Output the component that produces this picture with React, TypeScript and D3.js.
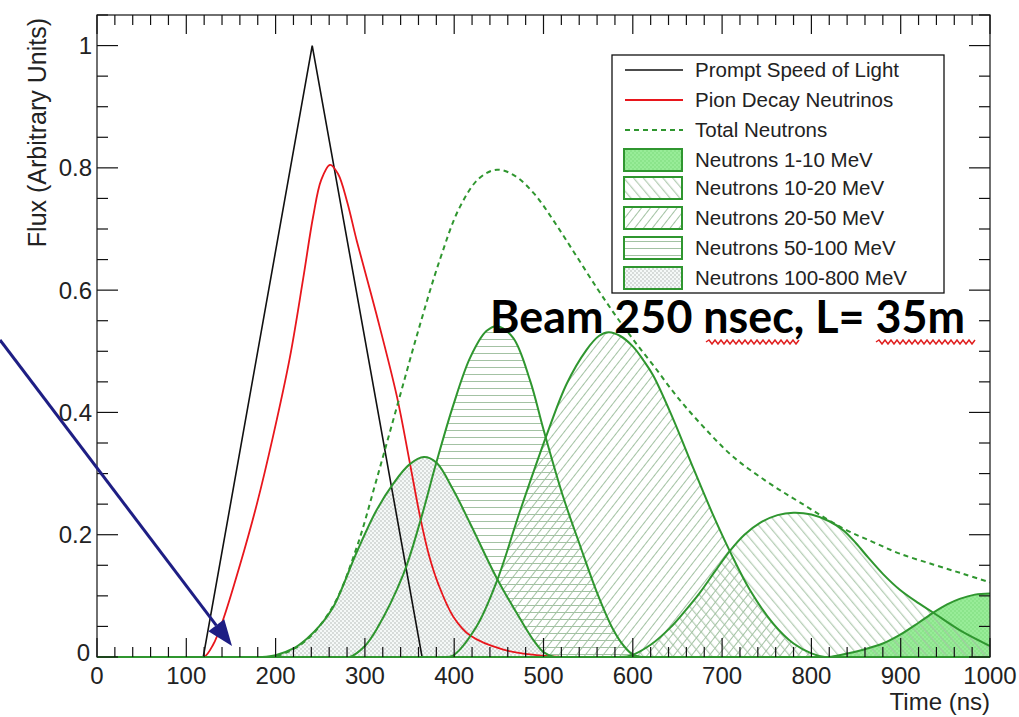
import React from 'react';
import * as d3 from 'd3';

type Pt = [number, number];

// ---------- data ----------
const timeTicks = [0, 100, 200, 300, 400, 500, 600, 700, 800, 900, 1000];
const fluxTicks = [0, 0.2, 0.4, 0.6, 0.8, 1];
const fluxTickLabels = ['0', '0.2', '0.4', '0.6', '0.8', '1'];

const promptLight: Pt[] = [[0, 0], [119, 0], [241, 1], [364, 0], [1000, 0]];

const pionNeutrinos: Pt[] = [
  [0, 0], [110, 0], [120, 0], [130, 0.02], [141, 0.06], [160, 0.15], [179, 0.25], [197, 0.36],
  [216, 0.49], [231, 0.62], [242, 0.72], [251, 0.78], [261, 0.805], [270, 0.79], [280, 0.745],
  [291, 0.68], [313, 0.56], [336, 0.425], [350, 0.32], [362, 0.228], [372, 0.165], [382, 0.12],
  [399, 0.066], [418, 0.035], [455, 0.012], [492, 0.003], [520, 0], [540, 0], [1000, 0],
];

const totalNeutrons: Pt[] = [
  [0, 0], [180, 0], [195, 0], [210, 0.006], [235, 0.028], [265, 0.085], [291, 0.18], [313, 0.29],
  [336, 0.41], [360, 0.535], [384, 0.65], [406, 0.735], [428, 0.783], [448, 0.797], [468, 0.787],
  [490, 0.757], [512, 0.712], [535, 0.66], [560, 0.603], [580, 0.56], [600, 0.52], [623, 0.477],
  [650, 0.425], [680, 0.375], [712, 0.328], [750, 0.287], [787, 0.253], [836, 0.21], [869, 0.188],
  [899, 0.169], [937, 0.151], [970, 0.136], [1000, 0.122],
];

const neutrons1to10: Pt[] = [
  [0, 0], [810, 0], [820, 0], [835, 0.004], [858, 0.012], [880, 0.022], [899, 0.036], [920, 0.056],
  [937, 0.073], [952, 0.086], [966, 0.095], [983, 0.102], [1000, 0.104],
];

const neutrons10to20: Pt[] = [
  [0, 0], [585, 0], [597, 0.002], [620, 0.02], [642, 0.048], [660, 0.078], [675, 0.105], [692, 0.14],
  [709, 0.174], [725, 0.2], [742, 0.219], [762, 0.232], [780, 0.236], [800, 0.233], [820, 0.222],
  [836, 0.207], [850, 0.186], [864, 0.162], [880, 0.136], [899, 0.11], [920, 0.088], [937, 0.072],
  [966, 0.044], [1000, 0.018],
];

const neutrons20to50: Pt[] = [
  [0, 0], [385, 0], [398, 0.002], [425, 0.05], [448, 0.125], [474, 0.24], [504, 0.365], [526, 0.447],
  [548, 0.502], [562, 0.525], [573, 0.531], [586, 0.525], [600, 0.508], [612, 0.485], [623, 0.46],
  [645, 0.39], [668, 0.308], [690, 0.232], [709, 0.172], [731, 0.11], [757, 0.055], [780, 0.022],
  [800, 0.006], [815, 0], [830, 0], [1000, 0],
];

const neutrons50to100: Pt[] = [
  [0, 0], [270, 0], [283, 0], [300, 0.018], [313, 0.045], [343, 0.135], [362, 0.222], [380, 0.318],
  [399, 0.412], [418, 0.49], [436, 0.533], [448, 0.541], [466, 0.522], [485, 0.452], [500, 0.372],
  [522, 0.262], [541, 0.182], [560, 0.105], [578, 0.045], [590, 0.018], [600, 0.004], [610, 0],
  [620, 0], [1000, 0],
];

const neutrons100to800: Pt[] = [
  [0, 0], [185, 0], [200, 0.003], [220, 0.014], [235, 0.03], [250, 0.052], [265, 0.083], [291, 0.172],
  [313, 0.24], [332, 0.284], [350, 0.315], [366, 0.327], [380, 0.318], [399, 0.273], [418, 0.218],
  [448, 0.128], [474, 0.062], [490, 0.025], [500, 0.008], [512, 0], [530, 0], [1000, 0],
];

const legendLabels = [
  'Prompt Speed of Light',
  'Pion Decay Neutrinos',
  'Total Neutrons',
  'Neutrons 1-10 MeV',
  'Neutrons 10-20 MeV',
  'Neutrons 20-50 MeV',
  'Neutrons 50-100 MeV',
  'Neutrons 100-800 MeV',
];

// ---------- styling ----------
const W = 1019, H = 717;
const L = 97, R = 990, T = 15, B = 657;
const GREEN = '#2f962f';
const HATCH = '#a3c2a3';
const FONT = '"Liberation Sans", Arial, Helvetica, sans-serif';

const components = [
  { data: neutrons1to10, fill: 'url(#p1to10)' },
  { data: neutrons10to20, fill: 'url(#pBack)' },
  { data: neutrons20to50, fill: 'url(#pFwd)' },
  { data: neutrons50to100, fill: 'url(#pHoriz)' },
  { data: neutrons100to800, fill: 'url(#pDots)' },
];
const legendFills = ['url(#p1to10)', 'url(#pBack)', 'url(#pFwd)', 'url(#pHoriz)', 'url(#pDots)'];

function wavy(x0: number, x1: number, y: number) {
  let d = `M${x0},${y}`;
  let up = true;
  for (let x = x0 + 3; x <= x1; x += 3) {
    d += ` L${x},${y + (up ? -2 : 2)}`;
    up = !up;
  }
  return d;
}

export default function App() {
  const x = d3.scaleLinear().domain([0, 1000]).range([L, R]);
  const y = d3.scaleLinear().domain([0, 1.05]).range([B, T]);

  const curve = d3.curveCatmullRom.alpha(0.5);
  const smooth = d3.line<Pt>().x(d => x(d[0])).y(d => y(d[1])).curve(curve);
  const straight = d3.line<Pt>().x(d => x(d[0])).y(d => y(d[1]));
  const area = d3.area<Pt>().x(d => x(d[0])).y0(y(0)).y1(d => y(d[1])).curve(curve);

  const xMinor = d3.range(0, 1001, 20);
  const yMinor = d3.range(0, 1.0501, 0.05);

  // arrow annotation
  const ax0 = 0, ay0 = 340, ax1 = 232, ay1 = 646;
  const ang = Math.atan2(ay1 - ay0, ax1 - ax0);
  const hl = 26, hw = 10;
  const bx = ax1 - hl * Math.cos(ang), by = ay1 - hl * Math.sin(ang);
  const head = `${ax1},${ay1} ${bx + hw * Math.sin(ang)},${by - hw * Math.cos(ang)} ${bx - hw * Math.sin(ang)},${by + hw * Math.cos(ang)}`;

  const legX = 612, legY = 55, legW = 332, legH = 238;
  const rowY = [70, 100, 130, 160, 188, 218, 248, 278];

  return (
    <svg width={W} height={H} style={{ position: 'absolute', left: 0, top: 0, background: '#fff' }}
      fontFamily={FONT}>
      <defs>
        <clipPath id="plotClip"><rect x={L} y={T} width={R - L} height={B - T + 1} /></clipPath>
        <pattern id="pHoriz" patternUnits="userSpaceOnUse" width="8" height="7">
          <line x1="0" y1="3.5" x2="8" y2="3.5" stroke={HATCH} strokeWidth="1" />
        </pattern>
        <pattern id="pFwd" patternUnits="userSpaceOnUse" width="7" height="7" patternTransform="rotate(38)">
          <line x1="3.5" y1="0" x2="3.5" y2="7" stroke={HATCH} strokeWidth="1" />
        </pattern>
        <pattern id="pBack" patternUnits="userSpaceOnUse" width="7.5" height="7.5" patternTransform="rotate(-40)">
          <line x1="3.5" y1="0" x2="3.5" y2="7.5" stroke={HATCH} strokeWidth="1" />
        </pattern>
        <pattern id="pDots" patternUnits="userSpaceOnUse" width="4" height="4">
          <rect x="0" y="0" width="4" height="4" fill="#f5f9f8" />
          <circle cx="1" cy="1" r="0.65" fill="#a0a6a3" />
          <circle cx="3" cy="3" r="0.65" fill="#a0a6a3" />
        </pattern>
        <pattern id="p1to10" patternUnits="userSpaceOnUse" width="4" height="4">
          <rect x="0" y="0" width="4" height="4" fill="#98ec98" />
          <circle cx="1" cy="1" r="0.7" fill="#74d674" />
          <circle cx="3" cy="3" r="0.7" fill="#74d674" />
        </pattern>
      </defs>

      <g clipPath="url(#plotClip)">
        {components.map((c, i) => (
          <path key={'a' + i} d={area(c.data) || ''} fill={c.fill} stroke="none" />
        ))}
        <path d={straight(promptLight) || ''} fill="none" stroke="#111" strokeWidth={1.6} />
        <path d={smooth(pionNeutrinos) || ''} fill="none" stroke="#e8161c" strokeWidth={1.8} />
        {components.map((c, i) => (
          <path key={'l' + i} d={smooth(c.data) || ''} fill="none" stroke={GREEN} strokeWidth={2} />
        ))}
        <path d={smooth(totalNeutrons) || ''} fill="none" stroke={GREEN} strokeWidth={2}
          strokeDasharray="5,4" />
      </g>

      {/* frame */}
      <rect x={L} y={T} width={R - L} height={B - T} fill="none" stroke="#111" strokeWidth={1.2} />
      <line x1={L} y1={B} x2={R} y2={B} stroke={GREEN} strokeWidth={2} />

      {/* x ticks bottom & top */}
      {xMinor.map(v => {
        const major = v % 100 === 0;
        const len = major ? 19 : 10;
        return (
          <g key={'xt' + v} stroke="#111" strokeWidth={1.2}>
            <line x1={x(v)} y1={B} x2={x(v)} y2={B - len} />
            <line x1={x(v)} y1={T} x2={x(v)} y2={T + len} />
          </g>
        );
      })}
      {/* y ticks left & right */}
      {yMinor.map((v, i) => {
        const major = i % 4 === 0;
        const len = major ? 21 : 11;
        return (
          <g key={'yt' + i} stroke="#111" strokeWidth={1.2}>
            <line x1={L} y1={y(v)} x2={L + len} y2={y(v)} />
            <line x1={R} y1={y(v)} x2={R - len} y2={y(v)} />
          </g>
        );
      })}

      {/* tick labels */}
      {timeTicks.map(v => (
        <text key={'xl' + v} x={x(v)} y={684} textAnchor="middle" fontSize={24} fill="#222">{v}</text>
      ))}
      {fluxTicks.map((v, i) => (
        <text key={'yl' + v} x={i === 0 ? 90 : 92} y={y(v) + (i === 0 ? 4 : 8.5)} textAnchor="end" fontSize={24}
          fill="#222">{fluxTickLabels[i]}</text>
      ))}

      {/* axis titles */}
      <text x={990} y={710} textAnchor="end" fontSize={24} fill="#222">Time (ns)</text>
      <text transform="translate(46,18) rotate(-90)" textAnchor="end" fontSize={25} fill="#222">
        Flux (Arbitrary Units)
      </text>

      {/* legend */}
      <rect x={legX} y={legY} width={legW} height={legH} fill="#fff" stroke="#111" strokeWidth={1.3} />
      <line x1={625} x2={683} y1={rowY[0]} y2={rowY[0]} stroke="#111" strokeWidth={1.6} />
      <line x1={625} x2={683} y1={rowY[1]} y2={rowY[1]} stroke="#e8161c" strokeWidth={1.8} />
      <line x1={625} x2={683} y1={rowY[2]} y2={rowY[2]} stroke={GREEN} strokeWidth={1.8} strokeDasharray="5,4" />
      {legendFills.map((f, i) => (
        <rect key={'lb' + i} x={624} y={rowY[i + 3] - 11} width={58} height={22} fill={f} stroke={GREEN}
          strokeWidth={2} />
      ))}
      {legendLabels.map((t, i) => (
        <text key={'lt' + i} x={695} y={rowY[i] + 7} fontSize={20.5} fill="#222">{t}</text>
      ))}

      {/* annotation */}
      <text x={490} y={333} fontFamily="Lato, 'Open Sans', sans-serif" fontWeight={700} fontSize={45}
        textLength={475} lengthAdjust="spacingAndGlyphs" fill="#000">Beam 250 nsec, L= 35m</text>
      <path d={wavy(706, 800, 342)} fill="none" stroke="#e02020" strokeWidth={1.5} />
      <path d={wavy(876, 975, 342)} fill="none" stroke="#e02020" strokeWidth={1.5} />

      <line x1={ax0} y1={ay0} x2={bx} y2={by} stroke="#1e1e84" strokeWidth={3} />
      <polygon points={head} fill="#1e1e84" />
    </svg>
  );
}
